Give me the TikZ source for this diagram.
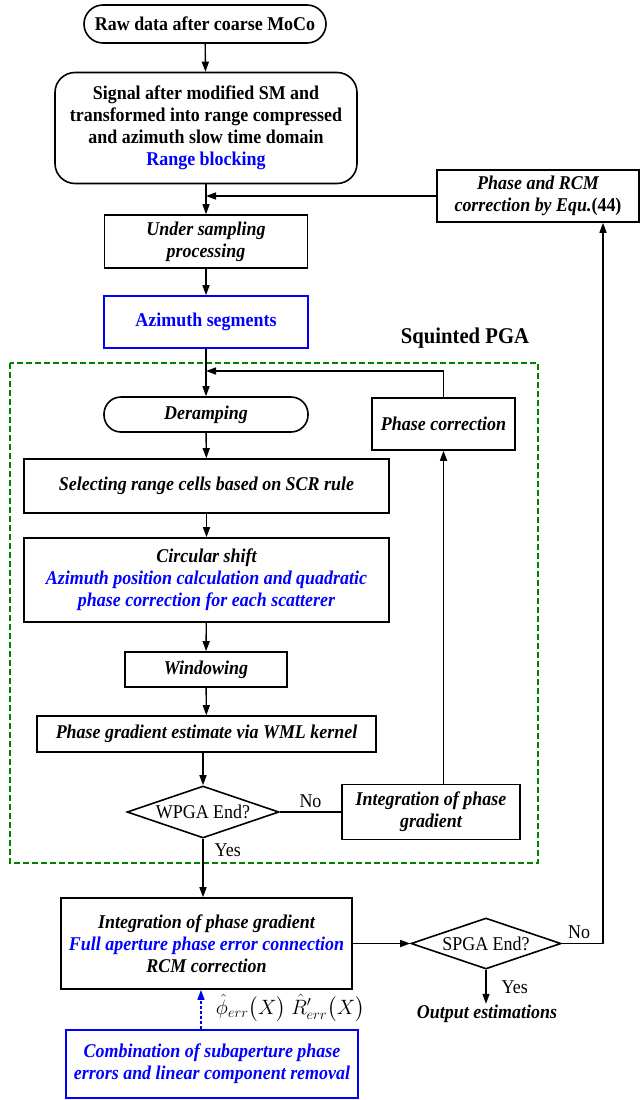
\documentclass[tikz,border=0pt]{standalone}
\usepackage{fontspec}
\setmainfont{Liberation Serif}[FakeStretch=0.92]
\usepackage{amsmath}
\usetikzlibrary{shapes.geometric,arrows.meta}
\definecolor{pgagreen}{RGB}{0,128,0}
\newcommand{\fsz}{\fontsize{19.5}{22}\selectfont}
\tikzset{
  flow/.style={draw=black,line width=1.6pt,align=center,inner sep=2pt,
    font=\fsz\bfseries\itshape},
  roundbox/.style={flow,rounded corners=18pt,font=\fsz\bfseries},
  bluebox/.style={flow,draw=blue,text=blue},
  decide/.style={diamond,aspect=2.9,draw=black,line width=1.6pt,inner sep=0pt,font=\fsz},
  conn/.style={line width=1.4pt,-{Triangle[length=10pt,width=7pt]}},
  tag/.style={font=\fsz,inner sep=1pt},
}
\newcommand{\bl}[1]{\textcolor{blue}{#1}}

\begin{document}
\begin{tikzpicture}[x=1pt,y=-1pt]
\useasboundingbox (0,0) rectangle (644,1100);

\node[roundbox,minimum width=242pt,minimum height=38pt,rounded corners=19pt] (raw) at (205,24) {Raw data after coarse MoCo};
\node[roundbox,minimum width=302pt,minimum height=111pt,rounded corners=20pt] (signal) at (206,128)
  {Signal after modified SM and\\transformed into range compressed\\and azimuth slow time domain\\\bl{Range blocking}};
\node[flow,minimum width=203pt,minimum height=53pt] (under) at (206,241.5) {Under sampling\\processing};
\node[bluebox,font=\fsz\bfseries,minimum width=204pt,minimum height=52pt] (azim) at (206,322) {Azimuth segments};
\node[flow,minimum width=202pt,minimum height=52pt] (rcm) at (538,196)
  {Phase and RCM\\correction by Equ.\textup{(44)}};

% squinted PGA block
\draw[pgagreen,line width=2pt,dash pattern=on 6pt off 3pt] (10,363) rectangle (538,863);
\node[font=\fontsize{22.5}{25}\selectfont\bfseries] (pga) at (465,338) {Squinted PGA};

\node[flow,minimum width=204pt,minimum height=35pt,rounded corners=17pt] (deramp) at (206,414.5) {Deramping};
\node[flow,minimum width=143pt,minimum height=52pt] (phcor) at (443.5,424) {Phase correction};
\node[flow,minimum width=365pt,minimum height=54pt] (select) at (206.5,486) {Selecting range cells based on SCR rule};
\node[flow,minimum width=365pt,minimum height=84pt] (circ) at (206.5,580)
  {Circular shift\\\bl{Azimuth position calculation and quadratic}\\\bl{phase correction for each scatterer}};
\node[flow,minimum width=162pt,minimum height=35pt] (window) at (206,669.5) {Windowing};
\node[flow,minimum width=339pt,minimum height=36pt] (grad) at (206.5,734) {Phase gradient estimate via WML kernel};
\node[decide,minimum width=152pt,minimum height=52pt] (wpga) at (203,812) {WPGA End?};
\node[flow,minimum width=178pt,minimum height=55pt] (intr) at (431,812) {Integration of phase\\gradient};

\node[flow,minimum width=291pt,minimum height=91pt] (intb) at (206.5,943.5)
  {Integration of phase gradient\\\bl{Full aperture phase error connection}\\RCM correction};
\node[decide,minimum width=150pt,minimum height=51pt] (spga) at (486,943.5) {SPGA End?};
\node[font=\fsz\bfseries\itshape,inner sep=1pt] (outp) at (487,1014) {Output estimations};
\node[bluebox,minimum width=292pt,minimum height=68pt] (comb) at (212,1064)
  {Combination of subaperture phase\\errors and linear component removal};
\node[tag,inner sep=0pt] (phierr) at (251,1008) {$\hat{\phi}_{err}\big(X\big)$};
\node[tag,inner sep=0pt] (rerr) at (328,1008) {$\hat{R}'_{err}\big(X\big)$};

% main chain
\draw[conn] (raw) -- (signal);
\draw[conn] (signal) -- (under);
\draw[conn] (rcm.west) -- (rcm.west -| under.north);
\draw[conn] (under) -- (azim);
\draw[conn] (azim) -- (deramp);
\draw[conn] (deramp) -- (select);
\draw[conn] (select) -- (circ);
\draw[conn] (circ) -- (window);
\draw[conn] (window) -- (grad);
\draw[conn] (grad.south -| wpga.north) -- (wpga.north);

% inner loop
\draw[line width=1.4pt] (wpga.east) -- node[tag,above=3pt] (no1) {No} (intr.west);
\draw[conn] (intr.north -| phcor.south) -- (phcor.south);
\coordinate (loopin) at (206,371);
\draw[conn] (phcor.north) |- (loopin);

\draw[conn] (wpga.south) -- node[tag,pos=0.2,right=10pt] (yes1) {Yes} (wpga.south |- intb.north);
\draw[conn] (intb.east) -- (spga.west);

% outer loop
\draw[conn] (spga.east) -| node[tag,pos=0.21,above=3pt] (no2) {No} ([xshift=65pt]rcm.south);
\draw[conn] (spga.south) -- node[tag,right=14pt] (yes2) {Yes} ++(0,34);
\draw[conn,blue,line width=1.3pt,dash pattern=on 3pt off 2pt] ([xshift=-11pt]comb.north) -- ([xshift=-11pt]comb.north |- intb.south);

\end{tikzpicture}
\end{document}
